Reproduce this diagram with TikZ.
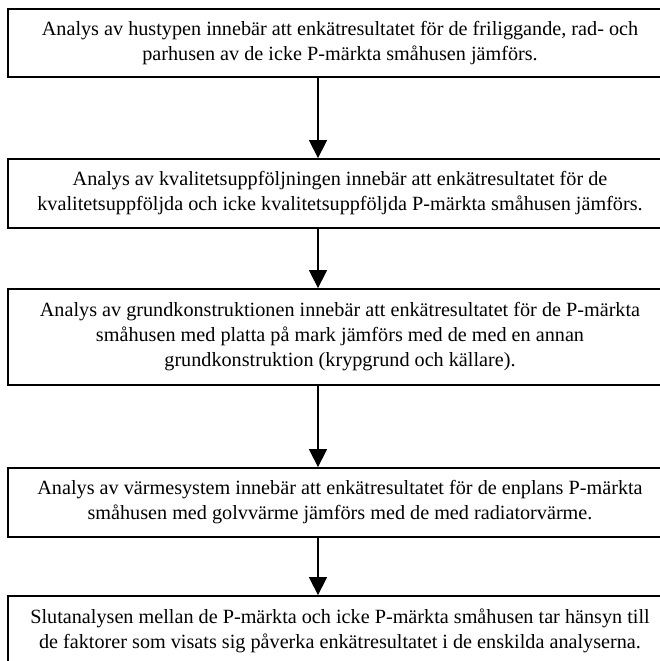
\documentclass[tikz,border=0pt]{standalone}
\usepackage{fontspec}
\setmainfont{Liberation Serif}
\usetikzlibrary{arrows.meta}
\tikzset{
  stepbox/.style={draw, line width=1.8pt, rectangle, inner sep=0pt,
    minimum width=664pt, align=center,
    font=\fontsize{20.2}{25}\selectfont},
  flowarrow/.style={line width=1.4pt, -{Triangle[length=18pt,width=18pt]}}
}
\begin{document}
\begin{tikzpicture}[x=1pt,y=-1pt]
\useasboundingbox (0,0) rectangle (660,661);
\coordinate (ax) at (318,0);
\node[stepbox, minimum height=68pt] (b1) at (340,43)
  {Analys av hustypen innebär att enkätresultatet för de friliggande, rad- och\\
   parhusen av de icke P-märkta småhusen jämförs.};
\node[stepbox, minimum height=69pt] (b2) at (340,193.5)
  {Analys av kvalitetsuppföljningen innebär att enkätresultatet för de\\
   kvalitetsuppföljda och icke kvalitetsuppföljda P-märkta småhusen jämförs.};
\node[stepbox, minimum height=96pt] (b3) at (340,337)
  {Analys av grundkonstruktionen innebär att enkätresultatet för de P-märkta\\
   småhusen med platta på mark jämförs med de med en annan\\
   grundkonstruktion (krypgrund och källare).};
\node[stepbox, minimum height=69pt] (b4) at (340,502.5)
  {Analys av värmesystem innebär att enkätresultatet för de enplans P-märkta\\
   småhusen med golvvärme jämförs med de med radiatorvärme.};
\node[stepbox, minimum height=69pt] (b5) at (340,630.5)
  {Slutanalysen mellan de P-märkta och icke P-märkta småhusen tar hänsyn till\\
   de faktorer som visats sig påverka enkätresultatet i de enskilda analyserna.};
\draw[flowarrow] (b1.south -| ax) -- (b2.north -| ax);
\draw[flowarrow] (b2.south -| ax) -- (b3.north -| ax);
\draw[flowarrow] (b3.south -| ax) -- (b4.north -| ax);
\draw[flowarrow] (b4.south -| ax) -- (b5.north -| ax);
\end{tikzpicture}
\end{document}
